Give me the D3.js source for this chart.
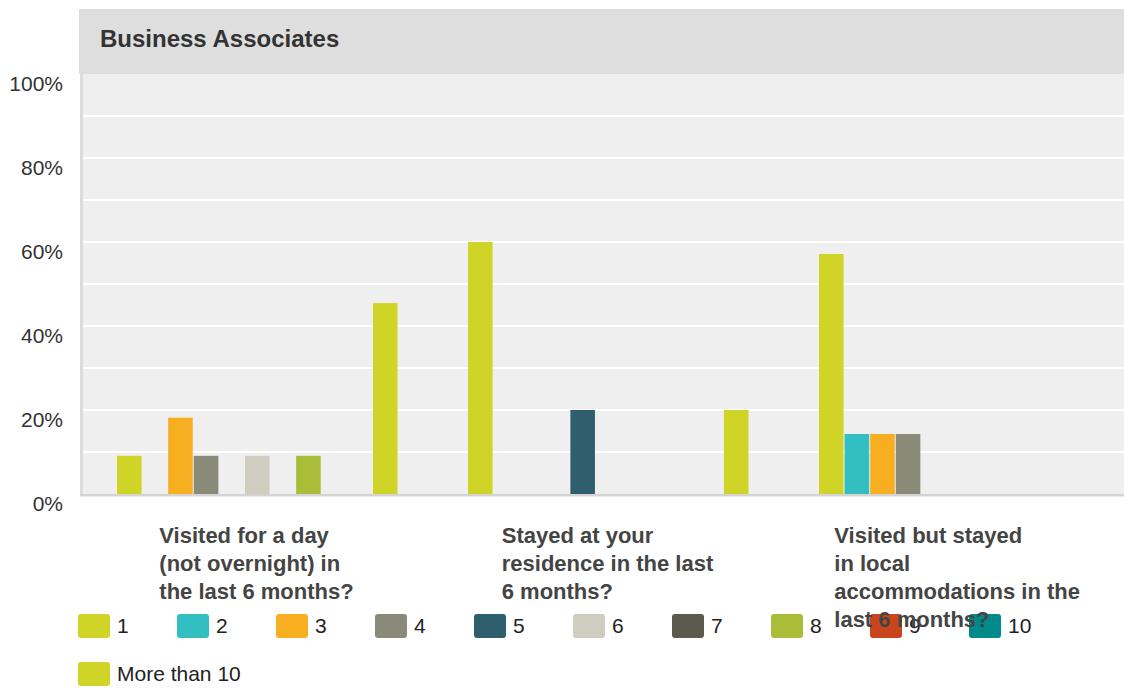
<!DOCTYPE html>
<html>
<head>
<meta charset="utf-8">
<script src="https://cdn.jsdelivr.net/npm/d3@7/dist/d3.min.js"></script>
<style>
  html, body { margin: 0; padding: 0; background: #fff; }
  svg { display: block; font-family: "Liberation Sans", Arial, sans-serif; }
</style>
</head>
<body>
<svg id="chart" width="1124" height="688"></svg>
<script>
// Survey question groups (each label split into its display lines)
const categories = [
  ["Visited for a day", "(not overnight) in", "the last 6 months?"],
  ["Stayed at your", "residence in the last", "6 months?"],
  ["Visited but stayed", "in local", "accommodations in the", "last 6 months?"]
];

// Number of visits (series names)
const seriesNames = ["1", "2", "3", "4", "5", "6", "7", "8", "9", "10", "More than 10"];

const seriesColors = ["#cfd427", "#33bec1", "#f7ae20", "#8a8a78", "#2f5f6d",
                      "#cfcdbf", "#5c5a4c", "#a9bd39", "#c9461c", "#008a8a", "#cfd427"];

// Percent of respondents, one array per series (values per question group)
const s1   = [9.09, 60, 57.14];
const s2   = [0, 0, 14.29];
const s3   = [18.18, 0, 14.29];
const s4   = [9.09, 0, 14.29];
const s5   = [0, 20, 0];
const s6   = [9.09, 0, 0];
const s7   = [0, 0, 0];
const s8   = [9.09, 0, 0];
const s9   = [0, 0, 0];
const s10  = [0, 0, 0];
const s11  = [45.45, 20, 0];
const seriesValues = [s1, s2, s3, s4, s5, s6, s7, s8, s9, s10, s11];

const yTicks = [0, 20, 40, 60, 80, 100];
const yGrid = [10, 20, 30, 40, 50, 60, 70, 80, 90];

const chartTitle = "Business Associates";

const svg = d3.select("#chart");
const W = 1124;

const plotLeft = 80, plotRight = W, plotTop = 74, plotBottom = 494;

const x0 = d3.scaleBand().domain(d3.range(categories.length)).range([81, 81 + 351 * 3]).padding(0);
const x1 = d3.scaleBand().domain(d3.range(seriesNames.length)).range([36, 36 + 25.5 * 11]).paddingInner(0.04).paddingOuter(0);
const y = d3.scaleLinear().domain([0, 100]).range([plotBottom, plotTop]);

// Header band with title
svg.append("rect").attr("x", 79).attr("y", 9).attr("width", W - 79).attr("height", 65).attr("fill", "#dedede");
svg.append("text").attr("x", 100).attr("y", 47)
  .attr("font-size", 24).attr("font-weight", "bold").attr("fill", "#333")
  .text(chartTitle);

// Plot background and gridlines
svg.append("rect").attr("x", plotLeft).attr("y", plotTop).attr("width", plotRight - plotLeft)
  .attr("height", plotBottom - plotTop).attr("fill", "#efefef");
svg.append("rect").attr("x", plotLeft).attr("y", plotTop).attr("width", 3)
  .attr("height", plotBottom - plotTop + 2).attr("fill", "#dcdcdc");

svg.append("g").selectAll("line").data(yGrid).join("line")
  .attr("x1", plotLeft + 3).attr("x2", plotRight)
  .attr("y1", d => y(d)).attr("y2", d => y(d))
  .attr("stroke", "#fff").attr("stroke-width", 2);

// Y axis labels
const yAxis = d3.axisLeft(y).tickValues(yTicks).tickFormat(d => d + "%").tickSize(0).tickPadding(0);
const gy = svg.append("g").attr("transform", "translate(63,0)").call(yAxis);
gy.select(".domain").remove();
gy.selectAll("text").attr("font-size", 21).attr("fill", "#333")
  .attr("font-family", "Liberation Sans, Arial, sans-serif").attr("dy", "0.32em")
  .attr("transform", "translate(0,10)");

// Bars
const groups = svg.append("g").selectAll("g").data(categories).join("g")
  .attr("transform", (d, i) => `translate(${x0(i)},0)`);
groups.selectAll("rect")
  .data((d, gi) => seriesValues.map((vals, si) => ({ si, v: vals[gi] })).filter(o => o.v > 0))
  .join("rect")
  .attr("x", d => x1(d.si))
  .attr("width", x1.bandwidth())
  .attr("y", d => y(d.v))
  .attr("height", d => y(0) - y(d.v))
  .attr("fill", d => seriesColors[d.si]);

// Bottom axis line
svg.append("rect").attr("x", plotLeft).attr("y", plotBottom).attr("width", plotRight - plotLeft)
  .attr("height", 2.5).attr("fill", "#d4d4d4");

// Legend
const legend = svg.append("g");
const items = legend.selectAll("g").data(seriesNames).join("g")
  .attr("transform", (d, i) => `translate(${78 + (i % 10) * 99},${614 + Math.floor(i / 10) * 48})`);
items.append("rect").attr("width", 32).attr("height", 24).attr("rx", 3)
  .attr("fill", (d, i) => seriesColors[i]);
items.append("text").attr("x", 39).attr("y", 12).attr("dy", "0.35em")
  .attr("font-size", 21).attr("fill", "#222").text(d => d);

// Category labels (left-aligned block centred under each group)
const catG = svg.append("g");
categories.forEach((lines, i) => {
  const g = catG.append("g");
  const texts = g.selectAll("text").data(lines).join("text")
    .attr("y", (d, k) => 543 + k * 28)
    .attr("font-size", 22).attr("font-weight", "bold").attr("fill", "#444")
    .text(d => d);
  let maxW = 0;
  texts.each(function () { maxW = Math.max(maxW, this.getComputedTextLength()); });
  let left = x0(i) + x0.bandwidth() / 2 - maxW / 2;
  left = Math.min(left, W - 44 - maxW);
  texts.attr("x", left);
});
</script>
</body>
</html>
